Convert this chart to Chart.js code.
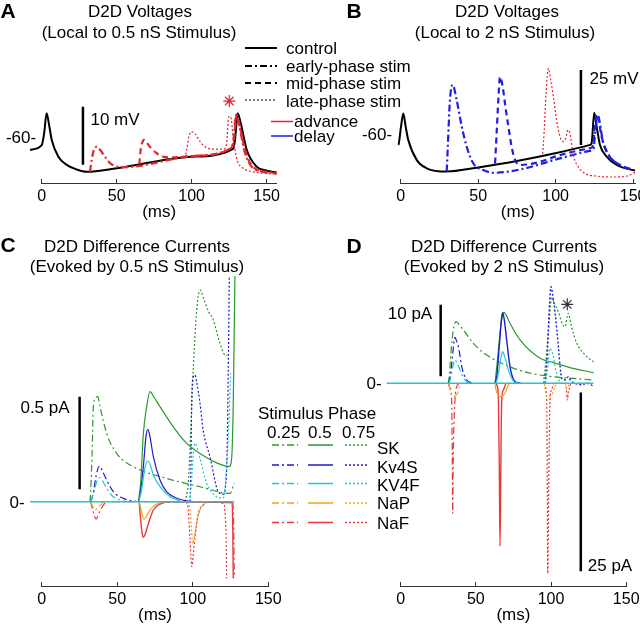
<!DOCTYPE html>
<html>
<head>
<meta charset="utf-8">
<script src="https://cdn.jsdelivr.net/npm/chart.js@4.4.1/dist/chart.umd.min.js"></script>
<style>
  body { margin: 0; width: 640px; height: 625px; position: relative; overflow: hidden; background: #fff;
         font-family: "Liberation Sans", Arial, sans-serif; color: #000; }
  canvas { position: absolute; }
  .t { position: absolute; white-space: nowrap; font-size: 17px; line-height: 1; transform: translate(-50%, -50%); }
  .l { position: absolute; white-space: nowrap; font-size: 17px; line-height: 1; transform: translateY(-50%); }
  .big { font-weight: bold; font-size: 21px; }
  svg { position: absolute; left: 0; top: 0; }
</style>
</head>
<body>
<canvas id="cA" width="300" height="221" style="left:0;top:0"></canvas>
<canvas id="cB" width="310" height="221" style="left:330px;top:0"></canvas>
<canvas id="cC" width="300" height="394" style="left:0;top:230px"></canvas>
<canvas id="cD" width="310" height="394" style="left:330px;top:230px"></canvas>

<!-- panel letters and titles -->
<div class="t big" style="left:8px;top:10px">A</div>
<div class="t big" style="left:354px;top:10px">B</div>
<div class="t big" style="left:8px;top:244px">C</div>
<div class="t big" style="left:354px;top:245px">D</div>
<div class="t" style="left:140px;top:11px">D2D Voltages</div>
<div class="t" style="left:139px;top:32px">(Local to 0.5 nS Stimulus)</div>
<div class="t" style="left:507px;top:11px">D2D Voltages</div>
<div class="t" style="left:505px;top:32px">(Local to 2 nS Stimulus)</div>
<div class="t" style="left:137px;top:246px">D2D Difference Currents</div>
<div class="t" style="left:137px;top:266px">(Evoked by 0.5 nS Stimulus)</div>
<div class="t" style="left:504px;top:246px">D2D Difference Currents</div>
<div class="t" style="left:504px;top:266px">(Evoked by 2 nS Stimulus)</div>

<!-- level and scale bar labels -->
<div class="t" style="left:21px;top:137px">-60-</div>
<div class="t" style="left:115px;top:119px">10 mV</div>
<div class="t" style="left:377px;top:134px">-60-</div>
<div class="t" style="left:614px;top:78px">25 mV</div>
<div class="t" style="left:45px;top:407px">0.5 pA</div>
<div class="t" style="left:17px;top:502px">0-</div>
<div class="t" style="left:410px;top:313px">10 pA</div>
<div class="t" style="left:374px;top:383px">0-</div>
<div class="t" style="left:610px;top:565px">25 pA</div>

<!-- voltage legend -->
<div class="l" style="left:286px;top:48px">control</div>
<div class="l" style="left:286px;top:66px">early-phase stim</div>
<div class="l" style="left:286px;top:83px">mid-phase stim</div>
<div class="l" style="left:286px;top:101px">late-phase stim</div>
<div class="l" style="left:294px;top:121px">advance</div>
<div class="l" style="left:294px;top:136px">delay</div>

<!-- current legend -->
<div class="l" style="left:258px;top:413px">Stimulus Phase</div>
<div class="l" style="left:267px;top:432px">0.25</div>
<div class="l" style="left:308px;top:432px">0.5</div>
<div class="l" style="left:342px;top:432px">0.75</div>
<div class="l" style="left:377px;top:448px">SK</div>
<div class="l" style="left:377px;top:467px">Kv4S</div>
<div class="l" style="left:377px;top:485px">KV4F</div>
<div class="l" style="left:377px;top:503px">NaP</div>
<div class="l" style="left:377px;top:523px">NaF</div>

<svg width="640" height="625" id="leg"></svg>

<script>
const FONT = '"Liberation Sans", Arial, sans-serif';
const xTicks = [0, 50, 100, 150];

// colours
const RED = '#e3262b', BLUE = '#1f1fe0';
const SK_C = '#2b9a2b', KV4S_C = '#1c1ccc', KV4F_C = '#1ec8d2', NAP_C = '#f4a11e', NAF_C = '#e8393a';
const DASHDOT = [7, 3, 2, 3], DASHED = [6, 4], DOTTED = [2, 2];

// ---- Panel A: voltages (mV) vs time (ms), 0.5 nS stimulus
const aControl = [[-7.8,-62.2],[0,-61.4],[1.6,-59.4],[3.3,-55.9],[5.1,-58.2],[6.7,-60.5],[11.1,-63.4],[16.7,-64.8],[23.3,-65.6],[30,-66.0],[50,-65.4],[100,-63.4],[127.8,-62.0],[128.9,-60.5],[130.7,-55.9],[132.7,-57.6],[136.7,-62.2],[143.3,-65.1],[150,-65.8],[156.7,-66.1]];
const aEarly = [[32.2,-66.0],[33.3,-64.0],[35.1,-62.0],[36.7,-61.7],[38.9,-62.2],[42.2,-63.4],[45.6,-64.5],[50,-65.1],[54.4,-65.2],[100,-63.3],[125.6,-62.0],[127.8,-60.8],[129.6,-56.2],[131.8,-58.2],[135.6,-62.8],[141.1,-65.4],[150,-66.0],[156.7,-66.3]];
const aMid = [[65.1,-64.7],[66,-62.2],[67.3,-60.8],[68.2,-60.5],[69.6,-60.8],[72.2,-61.7],[76.7,-62.8],[81.1,-63.4],[85.6,-63.5],[100,-63.3],[125.6,-62.0],[128.2,-60.5],[130,-56.2],[132.2,-58.2],[136.2,-62.8],[142.2,-65.4],[156.7,-66.3]];
const aLate = [[95.6,-63.7],[96.7,-62.2],[98.4,-59.7],[100,-59.1],[102.2,-59.4],[105.6,-60.8],[108.9,-61.7],[114.4,-62.1],[121.1,-62.1],[123.3,-61.1],[124.7,-56.5],[126,-56.5],[127.8,-60.5],[130.4,-64.0],[134.4,-65.4],[141.1,-66.0],[156.7,-66.4]];
const aBar = [[27.5,-54.8],[27.5,-64.8]];
const aStar = [[125.1,-53.8]];

// ---- Panel B: voltages (mV), 2 nS stimulus
const bControl = [[-9.0,-66.1],[-1.5,-64.4],[0.2,-58.3],[1.7,-53.9],[3.2,-58.3],[4.9,-62.8],[10.3,-69.4],[16.8,-72.2],[29.7,-73.3],[49,-72.0],[75,-69.8],[99.6,-67.2],[122.2,-64.4],[123.2,-63.9],[124.9,-53.7],[126.8,-59.4],[128.6,-64.4],[132.9,-68.3],[139.4,-71.1],[150,-72.8],[151.2,-72.9]];
const bEarly = [[29.7,-73.3],[30.3,-66.1],[31.8,-49.4],[33.5,-44.4],[36.1,-49.4],[39.4,-58.3],[42.6,-65],[46.9,-70.6],[53.3,-72.8],[59.8,-73.7],[77,-72.6],[102.8,-68.9],[122.1,-66.4],[124.5,-65.5],[125.5,-60],[127.3,-54.5],[128.5,-57],[130.3,-62.8],[135,-68.3],[141.5,-71.1],[150,-72.8]];
const bMid = [[60.9,-70.6],[61.9,-60.6],[63,-49.4],[64.1,-41.7],[65.8,-45],[67.3,-50.6],[69.5,-58.3],[71.6,-65],[73.8,-69.4],[77,-71.1],[88,-70.3],[102.8,-67.8],[122.1,-65.5],[124,-64.8],[125,-60],[126.5,-54.1],[127.8,-56.5],[129.8,-62],[134.5,-68],[141.5,-71.1],[150,-72.8]];
const bLate = [[91.6,-67.4],[92.5,-60.6],[93.8,-47.2],[95.3,-38.9],[96.8,-42.8],[98.5,-48.3],[100.6,-56.1],[102.8,-61.7],[105,-63.3],[106.5,-62.2],[107.9,-59.4],[109.2,-60.6],[111.4,-67.8],[114.6,-71.7],[118.9,-73.9],[126.5,-74.8],[137.2,-75.1],[145.8,-74.8],[151.5,-73.5]];
const bBar = [[116.3,-39.4],[116.3,-64.4]];

// ---- Panel C: difference currents (pA), 0.5 nS stimulus; phases 0.25 / 0.5 / 0.75
const cZero = [[-7.7,0],[127.5,0]];
const cSK25 = [[32,0],[32.4,0.05],[33.5,0.3],[34.2,0.514],[35.5,0.56],[37.1,0.568],[38.6,0.514],[43,0.369],[49.6,0.261],[60.7,0.189],[82.7,0.126],[104.8,0.081],[124.6,0.045],[127.5,0.1]];
const cSK50 = [[64,0],[65.5,0.1],[67.3,0.369],[69.5,0.514],[71.7,0.595],[74,0.57],[78.3,0.514],[87.1,0.405],[96,0.315],[104.8,0.26],[115.8,0.21],[124.2,0.19],[125.7,0.23],[126.8,0.53],[127.9,1.22]];
const cSK75 = [[95,0],[97,0.1],[98.5,0.35],[100.4,0.73],[102.6,1.036],[104.8,1.144],[107.5,1.09],[110.3,1.03],[113.6,0.982],[118,0.856],[121.3,0.793],[123,0.79]];
const cKv4S25 = [[32.4,0],[34,0.04],[36,0.14],[38.2,0.193],[40,0.17],[43,0.117],[47.4,0.054],[54,0.018],[60.7,0.004],[64,0]];
const cKv4S50 = [[64.3,0],[65.5,0.06],[67.3,0.19],[69,0.35],[70.2,0.391],[71.5,0.36],[73.9,0.243],[78.3,0.117],[82.7,0.054],[91.5,0.013],[100,0]];
const cKv4S75 = [[98.2,0],[98.8,0.2],[99.3,0.55],[100.4,0.676],[101.5,0.685],[102.5,0.65],[104.8,0.532],[107,0.38],[111.4,0.243],[116.9,0.054],[120.2,0.041],[122.4,0.171],[123.5,0.712],[124.2,1.22]];
const cKV4F25 = [[32.4,0],[34.5,0.05],[36.5,0.11],[38.6,0.13],[40.5,0.11],[43,0.072],[47.4,0.027],[51.8,0.009],[55,0]];
const cKV4F50 = [[64.3,0],[66,0.06],[68.5,0.19],[70.2,0.22],[71.8,0.2],[73.9,0.144],[78.3,0.081],[85,0.027],[91.5,0.005]];
const cKV4F75 = [[98.2,0],[99.5,0.15],[100.5,0.28],[101.5,0.315],[103,0.29],[104.8,0.234],[109.2,0.1],[115.8,0.027],[120.2,0.02],[123.5,0.35],[125.1,0.694]];
const cNaP25 = [[32.4,0],[34,-0.03],[35.3,-0.045],[37.5,-0.03],[40,-0.008],[43,0]];
const cNaP50 = [[64.5,0],[66,-0.05],[67.7,-0.095],[69.5,-0.075],[71.7,-0.045],[76.1,-0.013],[82.7,0]];
const cNaP75 = [[96.5,0],[98.2,-0.045],[99.3,-0.16],[99.9,-0.225],[101,-0.19],[102.6,-0.117],[104.8,-0.045],[107.5,-0.01],[110,0]];
const cNaF25 = [[32.4,0],[34,-0.05],[36,-0.094],[38,-0.06],[40.8,-0.018],[44,0],[126.5,-0.005],[127.1,-0.15],[127.5,-0.414]];
const cNaF50 = [[64.5,0],[65.1,-0.063],[66.5,-0.17],[67.3,-0.193],[68.5,-0.175],[70.6,-0.12],[73.9,-0.045],[78.3,-0.013],[85,0],[126,-0.005],[126.5,-0.15],[126.8,-0.414]];
const cNaF75 = [[96,0],[97,-0.045],[98.2,-0.207],[99.3,-0.351],[100.4,-0.28],[101.5,-0.189],[103.7,-0.063],[107,-0.018],[112,0],[120.2,-0.009],[122,-0.171],[122.4,-0.414]];
const cBar = [[25.1,0.567],[25.1,0.067]];

// ---- Panel D: difference currents (pA), 2 nS stimulus
const dZero = [[-9.3,0],[128.2,0]];
const dSK25 = [[31.7,0],[32.5,1.5],[33.5,4.5],[35,7.5],[36.8,8.62],[38.5,8.3],[41.7,7.46],[48.3,5.59],[57.2,3.96],[79.4,1.8],[92.7,1.16],[128.2,0.46]];
const dSK50 = [[62.7,0],[64,2.5],[66.1,7],[67.5,9.3],[68.7,9.93],[70,9.6],[72.7,8.39],[79.4,6.06],[92.7,3.5],[101.6,2.9],[112.6,2.2],[128.2,1.5]];
const dSK75 = [[94.9,0],[96.5,3],[98.5,8],[100.4,12.0],[102,11.3],[104.9,10.0],[107.5,8.3],[109.3,7.9],[111.5,9.8],[113.5,8.0],[117.1,5.6],[123,3.9],[128.2,3.0]];
const dKv4S25 = [[32,0],[33.3,1.4],[34.8,4.5],[36.1,6.43],[37.2,5.9],[38.4,5.13],[40.6,2.33],[43.9,0.47],[48,0]];
const dKv4S50 = [[63,0],[63.9,0.93],[65.5,5],[67,9],[67.8,9.88],[68.8,9],[70.5,6.06],[72.7,2.33],[76,0.23],[80,0]];
const dKv4S75 = [[96,0],[97.5,4],[99,11],[100,13.5],[101,12.5],[102.7,9.8],[104.9,5.1],[106.5,1.4],[107.7,0.5],[109.5,0.5],[111.5,0.93],[113,0.4],[114.9,0.1],[120,-0.2],[124,0],[128.2,-0.4]];
const dKV4F25 = [[32.2,0],[33.5,1],[35,2.6],[36.1,3.26],[37.5,2.8],[39.5,1.86],[41.5,0.8],[43.9,0.23],[46,0]];
const dKV4F50 = [[63.5,0],[65,1.4],[66.8,3.8],[67.8,4.43],[69,3.8],[70.5,2.8],[72,1.6],[73.8,0.7],[76,0.1],[78,0]];
const dKV4F75 = [[96.5,0],[98,2.5],[99.3,4.9],[100.5,4.5],[101.6,3.73],[102.7,2.3],[103.8,1.4],[105.5,0.4],[107,0]];
const dNaP25 = [[32,0],[32.8,-0.93],[35,-1.86],[36.5,-1.7],[37.7,-1.4],[39.5,-0.23],[41,0]];
const dNaP50 = [[62.7,0],[63.4,-0.93],[66.1,-1.86],[68,-1.7],[69.4,-1.4],[71.6,-0.23],[73,0]];
const dNaP75 = [[95.5,0],[96.2,-0.93],[97.1,-1.86],[99,-1.8],[100.4,-1.63],[102.7,-0.47],[104,0],[109.5,0],[110.4,-0.7],[111.5,-0.5],[112,0]];
const dNaF25 = [[32,0],[32.4,-0.47],[33.9,-2.33],[34.3,-10],[34.6,-18.2],[35,-10],[36.1,-2.33],[37.3,-0.47],[39,0]];
const dNaF50 = [[63.5,0],[64.3,-0.47],[65,-2.33],[65.6,-12],[66.1,-22.8],[66.6,-12],[67.2,-2.33],[68.3,-0.93],[70,0]];
const dNaF75 = [[95.5,0],[96,-0.47],[97.1,-2.33],[97.5,-14],[97.8,-26.6],[98.5,-14],[99.3,-2.33],[100.4,-0.93],[102,0],[109.5,0],[110,-0.47],[110.9,-2.33],[111.5,-1.2],[112.2,-0.7],[113,0]];
const dBar10 = [[26.6,11.0],[26.6,1.0]];
const dBar25 = [[119.8,-1.3],[119.8,-26.3]];
const dStar = [[110.8,11.05]];

Chart.defaults.font.family = FONT;
Chart.defaults.color = '#000';

function tr(data, color, width, dash) {
  return { data: data, borderColor: color, borderWidth: width, borderDash: dash || [],
           pointRadius: 0, fill: false, cubicInterpolationMode: 'monotone', clip: false };
}
function bar(data) {
  return { data: data, borderColor: '#000', borderWidth: 2.5, pointRadius: 0, clip: false };
}
function star(data, color) {
  return { data: data, showLine: false, pointStyle: 'star', pointRadius: 6, borderColor: color,
           borderWidth: 1.2, clip: false };
}

function xScale(max) {
  return {
    type: 'linear', min: 0, max: max,
    afterBuildTicks: s => { s.ticks = xTicks.map(v => ({ value: v })); },
    afterFit: s => { s.height = 38; s.paddingLeft = 0; s.paddingRight = 0; },
    grid: { display: true, drawOnChartArea: false, drawTicks: true, tickLength: -4, color: '#333', lineWidth: 1 },
    border: { display: true, color: '#333', width: 1 },
    ticks: { color: '#000', font: { size: 16 }, padding: 8, maxRotation: 0, autoSkip: false },
    title: { display: true, text: '(ms)', color: '#000', font: { size: 17, lineHeight: 1 }, padding: 0 }
  };
}

function makeChart(id, datasets, xmax, ymin, ymax, pad) {
  return new Chart(document.getElementById(id), {
    type: 'line',
    data: { datasets: datasets },
    options: {
      responsive: false, animation: false,
      layout: { padding: pad },
      plugins: { legend: { display: false }, tooltip: { enabled: false } },
      scales: { x: xScale(xmax), y: { type: 'linear', display: false, min: ymin, max: ymax } }
    }
  });
}

makeChart('cA', [
  star(aStar, RED),
  tr(aLate, RED, 1.2, DOTTED),
  tr(aMid, RED, 2.2, DASHED),
  tr(aEarly, RED, 2.2, DASHDOT),
  tr(aControl, '#000', 2),
  bar(aBar)
], 156.7, -67.93, -43.28, { top: 40, left: 41.7, right: 23.3, bottom: 0 });

makeChart('cB', [
  tr(bLate, RED, 1.2, DOTTED),
  tr(bMid, BLUE, 2.2, DASHED),
  tr(bEarly, BLUE, 2.2, DASHDOT),
  tr(bControl, '#000', 2),
  bar(bBar)
], 151.2, -77.1, -29.43, { top: 40, left: 70.7, right: 5, bottom: 0 });

makeChart('cC', [
  tr(cZero, KV4F_C, 1.5),
  tr(cKV4F25, KV4F_C, 1.2, DASHDOT), tr(cKV4F50, KV4F_C, 1.2), tr(cKV4F75, KV4F_C, 1.2, DOTTED),
  tr(cKv4S25, KV4S_C, 1.2, DASHDOT), tr(cKv4S50, KV4S_C, 1.2), tr(cKv4S75, KV4S_C, 1.2, DOTTED),
  tr(cSK25, SK_C, 1.2, DASHDOT), tr(cSK50, SK_C, 1.2), tr(cSK75, SK_C, 1.2, DOTTED),
  tr(cNaP25, NAP_C, 1.2, DASHDOT), tr(cNaP50, NAP_C, 1.2), tr(cNaP75, NAP_C, 1.2, DOTTED),
  tr(cNaF25, NAF_C, 1.2, DASHDOT), tr(cNaF50, NAF_C, 1.4), tr(cNaF75, NAF_C, 1.2, DOTTED),
  bar(cBar)
], 150, -0.4557, 1.22, { top: 46, left: 41.7, right: 31.7, bottom: 0 });

makeChart('cD', [
  star(dStar, '#333'),
  tr(dZero, KV4F_C, 1.5),
  tr(dKV4F25, KV4F_C, 1.2, DASHDOT), tr(dKV4F50, KV4F_C, 1.2), tr(dKV4F75, KV4F_C, 1.2, DOTTED),
  tr(dKv4S25, KV4S_C, 1.2, DASHDOT), tr(dKv4S50, KV4S_C, 1.4), tr(dKv4S75, KV4S_C, 1.4, DOTTED),
  tr(dSK25, SK_C, 1.2, DASHDOT), tr(dSK50, SK_C, 1.2), tr(dSK75, SK_C, 1.2, DOTTED),
  tr(dNaP25, NAP_C, 1.2, DASHDOT), tr(dNaP50, NAP_C, 1.2), tr(dNaP75, NAP_C, 1.2, DOTTED),
  tr(dNaF25, NAF_C, 1.2, DASHDOT), tr(dNaF50, NAF_C, 1.4), tr(dNaF75, NAF_C, 1.2, DOTTED),
  bar(dBar10), bar(dBar25)
], 150, -28.35, 14.45, { top: 50, left: 70.7, right: 13.8, bottom: 0 });

// legend swatches
const svg = document.getElementById('leg');
function seg(x1, x2, y, color, w, dash) {
  const ln = document.createElementNS('http://www.w3.org/2000/svg', 'line');
  ln.setAttribute('x1', x1); ln.setAttribute('x2', x2);
  ln.setAttribute('y1', y); ln.setAttribute('y2', y);
  ln.setAttribute('stroke', color); ln.setAttribute('stroke-width', w);
  if (dash) ln.setAttribute('stroke-dasharray', dash.join(','));
  svg.appendChild(ln);
}
seg(245, 277, 48, '#000', 2);
seg(245, 277, 66, '#000', 2, DASHDOT);
seg(245, 277, 83, '#000', 2, DASHED);
seg(245, 277, 100, '#000', 1.2, DOTTED);
seg(271, 293, 121.5, RED, 1.5);
seg(271, 293, 136, BLUE, 1.5);

const legRows = [[SK_C, 445], [KV4S_C, 465], [KV4F_C, 483.5], [NAP_C, 503], [NAF_C, 522.5]];
legRows.forEach(([c, y]) => {
  seg(272, 298, y, c, 1.5, DASHDOT);
  seg(308, 333, y, c, 1.5);
  seg(345, 368, y, c, 1.5, DOTTED);
});
</script>
</body>
</html>
